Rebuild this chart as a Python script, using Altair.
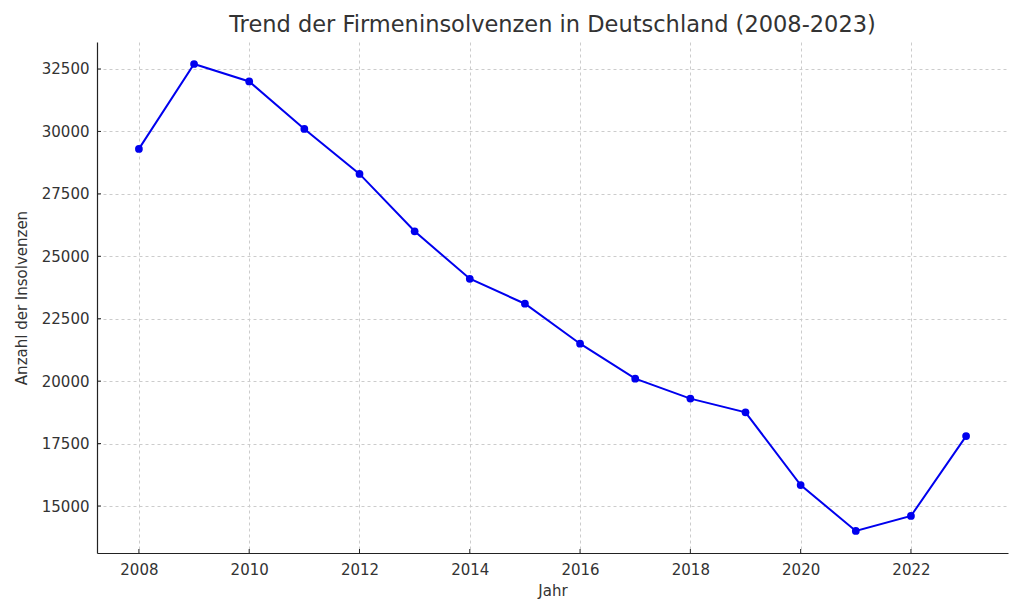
import altair as alt
import pandas as pd

years = list(range(2008, 2024))
insolvencies = [29300, 32700, 32000, 30100, 28300, 26000, 24100, 23100,
                21500, 20100, 19300, 18750, 15840, 14000, 14600, 17800]
x_ticks = [2008, 2010, 2012, 2014, 2016, 2018, 2020, 2022]
y_ticks = [15000, 17500, 20000, 22500, 25000, 27500, 30000, 32500]

df = pd.DataFrame({"Jahr": years, "Insolvenzen": insolvencies})
tick_df = pd.DataFrame({"Jahr": x_ticks})
ytick_df = pd.DataFrame({"Insolvenzen": y_ticks})

W, H = 911, 511
xscale = alt.Scale(domain=[2007.24, 2023.76], nice=False, zero=False)
yscale = alt.Scale(domain=[13118, 33581], nice=False, zero=False)

font = "DejaVu Sans"

xaxis = alt.Axis(values=x_ticks, format="d", title="Jahr",
                 grid=True, gridDash=[3, 3], gridColor="#cccccc",
                 ticks=False, labelPadding=9, titlePadding=6)
yaxis = alt.Axis(values=y_ticks, format="d", title="Anzahl der Insolvenzen",
                 grid=True, gridDash=[3, 3], gridColor="#cccccc",
                 ticks=False, labelPadding=8, titlePadding=12)

X = alt.X("Jahr:Q", scale=xscale, axis=xaxis)
Y = alt.Y("Insolvenzen:Q", scale=yscale, axis=yaxis)

base = alt.Chart(df)
line = base.mark_line(color="#0000ee", strokeWidth=2).encode(x=X, y=Y)
points = base.mark_circle(color="#0000ee", size=60, opacity=1).encode(x=X, y=Y)
xticks = alt.Chart(tick_df).mark_rule(color="#222222").encode(
    x=X, y=alt.value(H), y2=alt.value(H - 4)
)
yticks = alt.Chart(ytick_df).mark_rule(color="#222222").encode(
    y=Y, x=alt.value(0), x2=alt.value(4)
)

chart = alt.layer(line, points, xticks, yticks).properties(
    width=W, height=H,
    background="white",
    title=alt.TitleParams("Trend der Firmeninsolvenzen in Deutschland (2008-2023)",
                          fontSize=22.5, font=font, fontWeight="normal", color="#333333",
                          offset=6),
    autosize=alt.AutoSizeParams(type="none"),
    padding={"left": 97, "top": 42, "right": 16, "bottom": 61},
).configure_view(stroke=None).configure_axis(
    labelFont=font, titleFont=font, labelColor="#333333", titleColor="#333333",
    titleFontWeight="normal", domainWidth=1.2, domainColor="#222222",
    labelFontSize=15, titleFontSize=15
)

chart.save("out.html", embed_options={"renderer": "svg", "actions": False})
